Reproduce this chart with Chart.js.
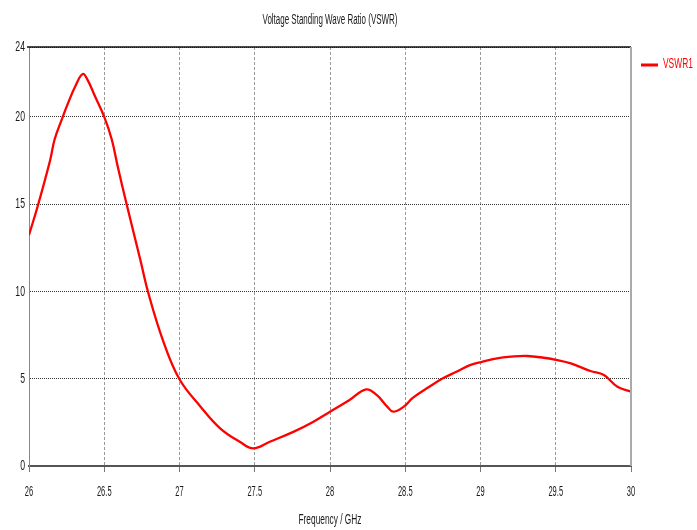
<!DOCTYPE html>
<html>
<head>
<meta charset="utf-8">
<script src="https://cdn.jsdelivr.net/npm/chart.js@4/dist/chart.umd.min.js"></script>
<style>
  body { margin: 0; background: #fff; }
  #wrap { width: 697px; height: 530px; }
</style>
</head>
<body>
<div id="wrap"><canvas id="vswr" width="697" height="530"></canvas></div>
<script>
// values
var freqs = [26.0, 26.06, 26.14, 26.17, 26.22, 26.26, 26.31, 26.357, 26.39, 26.44, 26.5, 26.55, 26.59, 26.65,
    26.74, 26.79, 26.89, 27.0, 27.14, 27.27, 27.4, 27.49, 27.6, 27.76, 27.89, 28.0, 28.13, 28.24, 28.31,
    28.38, 28.42, 28.49, 28.55, 28.66, 28.75, 28.84, 28.93, 29.01, 29.11, 29.2, 29.31, 29.42, 29.51, 29.6,
    29.73, 29.82, 29.91, 30.0];
var vswr1 = [13.23, 14.95, 17.5, 18.7, 19.9, 20.8, 21.8, 22.45, 22.1, 21.15, 20.0, 18.7, 17.14, 14.95,
    11.8, 10.0, 7.2, 4.97, 3.4, 2.16, 1.39, 1.01, 1.39, 1.97, 2.54, 3.11, 3.78, 4.39, 4.07,
    3.4, 3.11, 3.4, 3.9, 4.54, 5.02, 5.4, 5.78, 5.97, 6.17, 6.26, 6.3, 6.2, 6.07, 5.88,
    5.44, 5.21, 4.54, 4.26];
var yTicks = [0, 5, 10, 15, 20, 24];
var chartTitle = "Voltage Standing Wave Ratio (VSWR)";
var xTitle = "Frequency / GHz";
var seriesName = "VSWR1";

var FONT = "'Liberation Sans', Arial, sans-serif";
var TEXT = '#1a1a1a';

var points = [];
for (var i = 0; i < freqs.length; i++) {
    points.push({ x: freqs[i], y: vswr1[i] });
}

// the original texts are squeezed sideways, so draw them narrowed
function squeezed(c, txt, x, y, align, size, sx, color) {
    c.save();
    c.font = size + 'px ' + FONT;
    c.fillStyle = color;
    c.textBaseline = 'middle';
    c.textAlign = 'left';
    var w = c.measureText(txt).width * sx;
    var left = x;
    if (align === 'center') left = x - w / 2;
    if (align === 'right') left = x - w;
    c.translate(left, y);
    c.scale(sx, 1);
    c.fillText(txt, 0, 0);
    c.restore();
}

function fitTo(c, txt, size, width) {
    c.save();
    c.font = size + 'px ' + FONT;
    var w = c.measureText(txt).width;
    c.restore();
    return width / w;
}

function fmt(v) {
    return (Math.round(v * 10) / 10).toString();
}

var extras = {
    id: 'extras',
    afterDraw: function (chart) {
        var c = chart.ctx;
        var a = chart.chartArea;
        var xs = chart.scales.x;
        var ys = chart.scales.y;
        c.save();
        // top border
        c.strokeStyle = '#111';
        c.lineWidth = 1.5;
        c.beginPath();
        c.moveTo(a.left - 2, a.top);
        c.lineTo(a.right, a.top);
        c.stroke();
        // right border
        c.strokeStyle = '#aaa';
        c.lineWidth = 2;
        c.beginPath();
        c.moveTo(a.right, a.top);
        c.lineTo(a.right, a.bottom);
        c.stroke();
        c.restore();

        // tick labels from the scales
        xs.ticks.forEach(function (t) {
            squeezed(c, fmt(t.value), xs.getPixelForValue(t.value), 492, 'center', 15, 0.5, TEXT);
        });
        ys.ticks.forEach(function (t) {
            squeezed(c, fmt(t.value), 25, ys.getPixelForValue(t.value), 'right', 15, 0.58, TEXT);
        });

        // titles
        var mid = (a.left + a.right) / 2;
        squeezed(c, chartTitle, mid, 20, 'center', 14, fitTo(c, chartTitle, 14, 135), TEXT);
        squeezed(c, xTitle, mid, 520, 'center', 14, fitTo(c, xTitle, 14, 63), TEXT);

        // legend
        c.save();
        c.strokeStyle = '#ff0000';
        c.lineWidth = 3;
        c.beginPath();
        c.moveTo(641, 65);
        c.lineTo(658, 65);
        c.stroke();
        c.restore();
        squeezed(c, seriesName, 663, 64, 'left', 14, 0.6, '#ff0000');
    }
};

var ctx = document.getElementById('vswr').getContext('2d');

var graphic = new Chart(ctx, {
    type: 'line',
    data: {
        datasets: [{
            label: seriesName,
            data: points,
            borderColor: '#ff0000',
            borderWidth: 2.3,
            pointRadius: 0,
            tension: 0.4,
            fill: false
        }]
    },
    options: {
        responsive: false,
        animation: false,
        layout: { padding: { top: 47, right: 66, left: 0, bottom: 0 } },
        plugins: {
            legend: { display: false },
            title: { display: false },
            tooltip: { enabled: false }
        },
        scales: {
            x: {
                type: 'linear',
                min: 26,
                max: 30,
                afterFit: function (s) { s.height = 64; },
                ticks: { stepSize: 0.5, display: false },
                grid: {
                    color: '#999',
                    lineWidth: 1,
                    tickLength: 6,
                    tickColor: '#777'
                },
                border: { display: true, color: '#555', width: 2, dash: [3, 2] }
            },
            y: {
                min: 0,
                max: 24,
                afterFit: function (s) { s.width = 29; },
                afterBuildTicks: function (s) {
                    s.ticks = yTicks.map(function (v) { return { value: v }; });
                },
                ticks: { display: false },
                grid: {
                    color: '#333',
                    lineWidth: 1,
                    drawTicks: false
                },
                border: { display: true, color: '#888', width: 1, dash: [1, 1] }
            }
        }
    },
    plugins: [extras]
});
</script>
</body>
</html>
